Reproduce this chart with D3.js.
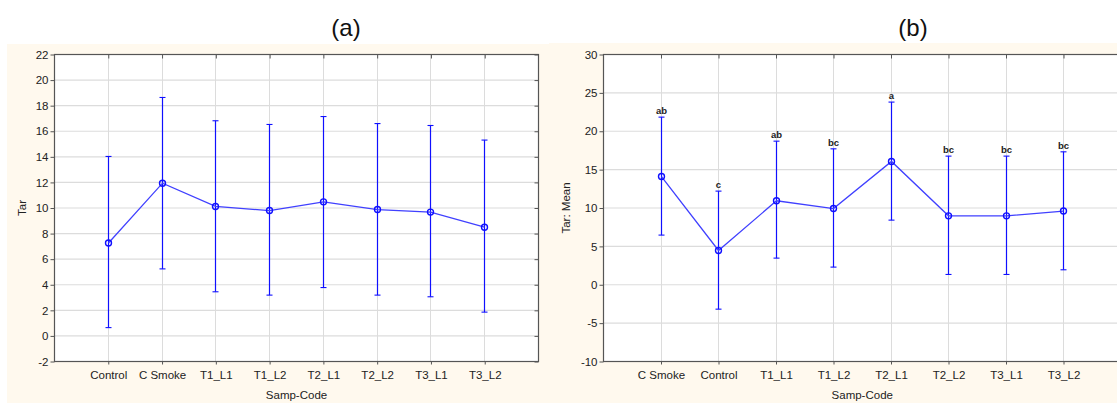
<!DOCTYPE html>
<html>
<head>
<meta charset="utf-8">
<script src="https://cdn.jsdelivr.net/npm/d3@7"></script>
<style>
  html, body { margin: 0; padding: 0; background: #fff; overflow: hidden; }
  svg { display: block; font-family: Arial, "Liberation Sans", sans-serif; }
</style>
</head>
<body>
<svg id="chart" width="1117" height="403"></svg>
<script>
// panel (a)
const categoriesA = ['Control', 'C Smoke', 'T1_L1', 'T1_L2', 'T2_L1', 'T2_L2', 'T3_L1', 'T3_L2'];
const meanA = [7.26, 11.94, 10.12, 9.8, 10.48, 9.88, 9.68, 8.5];
const upperA = [14.03, 18.64, 16.82, 16.53, 17.15, 16.6, 16.45, 15.31];
const lowerA = [0.65, 5.24, 3.45, 3.19, 3.78, 3.19, 3.06, 1.86];
const ticksA = [-2, 0, 2, 4, 6, 8, 10, 12, 14, 16, 18, 20, 22];

// panel (b)
const categoriesB = ['C Smoke', 'Control', 'T1_L1', 'T1_L2', 'T2_L1', 'T2_L2', 'T3_L1', 'T3_L2'];
const meanB = [14.1, 4.46, 10.94, 9.93, 16.06, 8.98, 8.98, 9.6];
const upperB = [21.84, 12.2, 18.71, 17.71, 23.8, 16.76, 16.76, 17.32];
const lowerB = [6.47, -3.18, 3.47, 2.3, 8.42, 1.34, 1.34, 1.95];
const lettersB = ['ab', 'c', 'ab', 'bc', 'a', 'bc', 'bc', 'bc'];
const ticksB = [-10, -5, 0, 5, 10, 15, 20, 25, 30];

const svg = d3.select('#chart');
const cream = '#fff9ee';
const lineBlue = '#4040ff';
const barBlue = '#1010ff';

// cream panel backgrounds
svg.append('rect').attr('x', 7).attr('y', 44).attr('width', 542).attr('height', 359).attr('fill', cream);
svg.append('rect').attr('x', 549).attr('y', 43).attr('width', 568).attr('height', 360).attr('fill', cream);

function drawPanel(p) {
  const g = svg.append('g').attr('transform', `translate(${p.left},${p.top})`);
  const w = p.width, h = p.height;

  const x = d3.scalePoint().domain(p.categories).range([0, w]).padding(1);
  const y = d3.scaleLinear().domain(p.domain).range([h, 0]);
  // snap to the pixel grid so thin lines stay crisp
  const px = (c) => Math.round(x(c));

  g.append('rect').attr('width', w).attr('height', h).attr('fill', '#fff');

  // grid
  g.append('g')
    .selectAll('line.h')
    .data(p.ticks)
    .join('line')
    .attr('x1', 0).attr('x2', w)
    .attr('y1', (d) => y(d)).attr('y2', (d) => y(d))
    .attr('stroke', '#dcdcdc').attr('stroke-width', 1.2);
  g.append('g')
    .selectAll('line.v')
    .data(p.categories)
    .join('line')
    .attr('x1', px).attr('x2', px)
    .attr('y1', 0).attr('y2', h)
    .attr('stroke', '#dcdcdc').attr('stroke-width', 1);

  // axes (plain hyphen for negatives, like the original)
  g.append('g').call(d3.axisLeft(y).tickValues(p.ticks).tickSize(4).tickPadding(2).tickFormat((d) => String(d)));
  g.append('g').attr('transform', `translate(0,${h})`)
    .call(d3.axisBottom(x).tickSize(3).tickPadding(6));
  g.append('g').attr('transform', `translate(${w},0)`)
    .call(d3.axisLeft(y).tickValues(p.ticks).tickSize(4).tickFormat(''));
  g.append('g').call(d3.axisBottom(x).tickSize(4).tickFormat(''));
  g.selectAll('.domain').remove();
  g.selectAll('.tick line').attr('stroke', '#555');
  g.selectAll('.tick text').attr('fill', '#222').style('font-size', '11.5px')
    .style('font-family', 'Arial, "Liberation Sans", sans-serif');

  g.append('rect').attr('width', w).attr('height', h)
    .attr('fill', 'none').attr('stroke', '#555').attr('stroke-width', 1.2);

  // error bars
  const bars = g.append('g');
  p.categories.forEach((c, i) => {
    const cx = px(c);
    bars.append('line').attr('x1', cx).attr('x2', cx)
      .attr('y1', y(p.upper[i])).attr('y2', y(p.lower[i]))
      .attr('stroke', barBlue).attr('stroke-width', 1.2);
    [p.upper[i], p.lower[i]].forEach((v) => {
      bars.append('line').attr('x1', cx - 3).attr('x2', cx + 3)
        .attr('y1', y(v)).attr('y2', y(v))
        .attr('stroke', barBlue).attr('stroke-width', 1.1);
    });
    if (p.letters) {
      bars.append('text').attr('x', cx).attr('y', y(p.upper[i]) - 3)
        .attr('text-anchor', 'middle').attr('fill', '#222')
        .style('font-size', '9.5px').style('font-weight', 'bold')
        .text(p.letters[i]);
    }
  });

  // mean line and markers
  const line = d3.line().x((d, i) => px(p.categories[i])).y((d) => y(d));
  g.append('path').datum(p.mean).attr('d', line)
    .attr('fill', 'none').attr('stroke', lineBlue).attr('stroke-width', 1.3);
  g.selectAll('circle.m')
    .data(p.mean)
    .join('circle')
    .attr('cx', (d, i) => px(p.categories[i])).attr('cy', (d) => y(d))
    .attr('r', 3).attr('fill', 'none').attr('stroke', barBlue).attr('stroke-width', 1.4);

  // labels
  svg.append('text').attr('x', p.titleX).attr('y', 36).attr('text-anchor', 'middle')
    .style('font-size', '24px').attr('fill', '#111').text(p.title);
  svg.append('text').attr('x', p.left + w / 2).attr('y', 399)
    .attr('text-anchor', 'middle').style('font-size', '11.5px').attr('fill', '#222').text('Samp-Code');
  svg.append('text')
    .attr('transform', `translate(${p.yLabelX},${p.top + h / 2}) rotate(-90)`)
    .attr('dy', '0.35em')
    .attr('text-anchor', 'middle').style('font-size', '11.5px').attr('fill', '#222').text(p.yLabel);
}

drawPanel({
  left: 54.5, top: 54.5, width: 484, height: 307,
  categories: categoriesA, mean: meanA, upper: upperA, lower: lowerA,
  domain: [-2, 22], ticks: ticksA,
  title: '(a)', titleX: 346, yLabel: 'Tar', yLabelX: 22
});

drawPanel({
  left: 603.5, top: 54.5, width: 517.5, height: 307,
  categories: categoriesB, mean: meanB, upper: upperB, lower: lowerB, letters: lettersB,
  domain: [-10, 30], ticks: ticksB,
  title: '(b)', titleX: 913, yLabel: 'Tar: Mean', yLabelX: 566
});
</script>
</body>
</html>
